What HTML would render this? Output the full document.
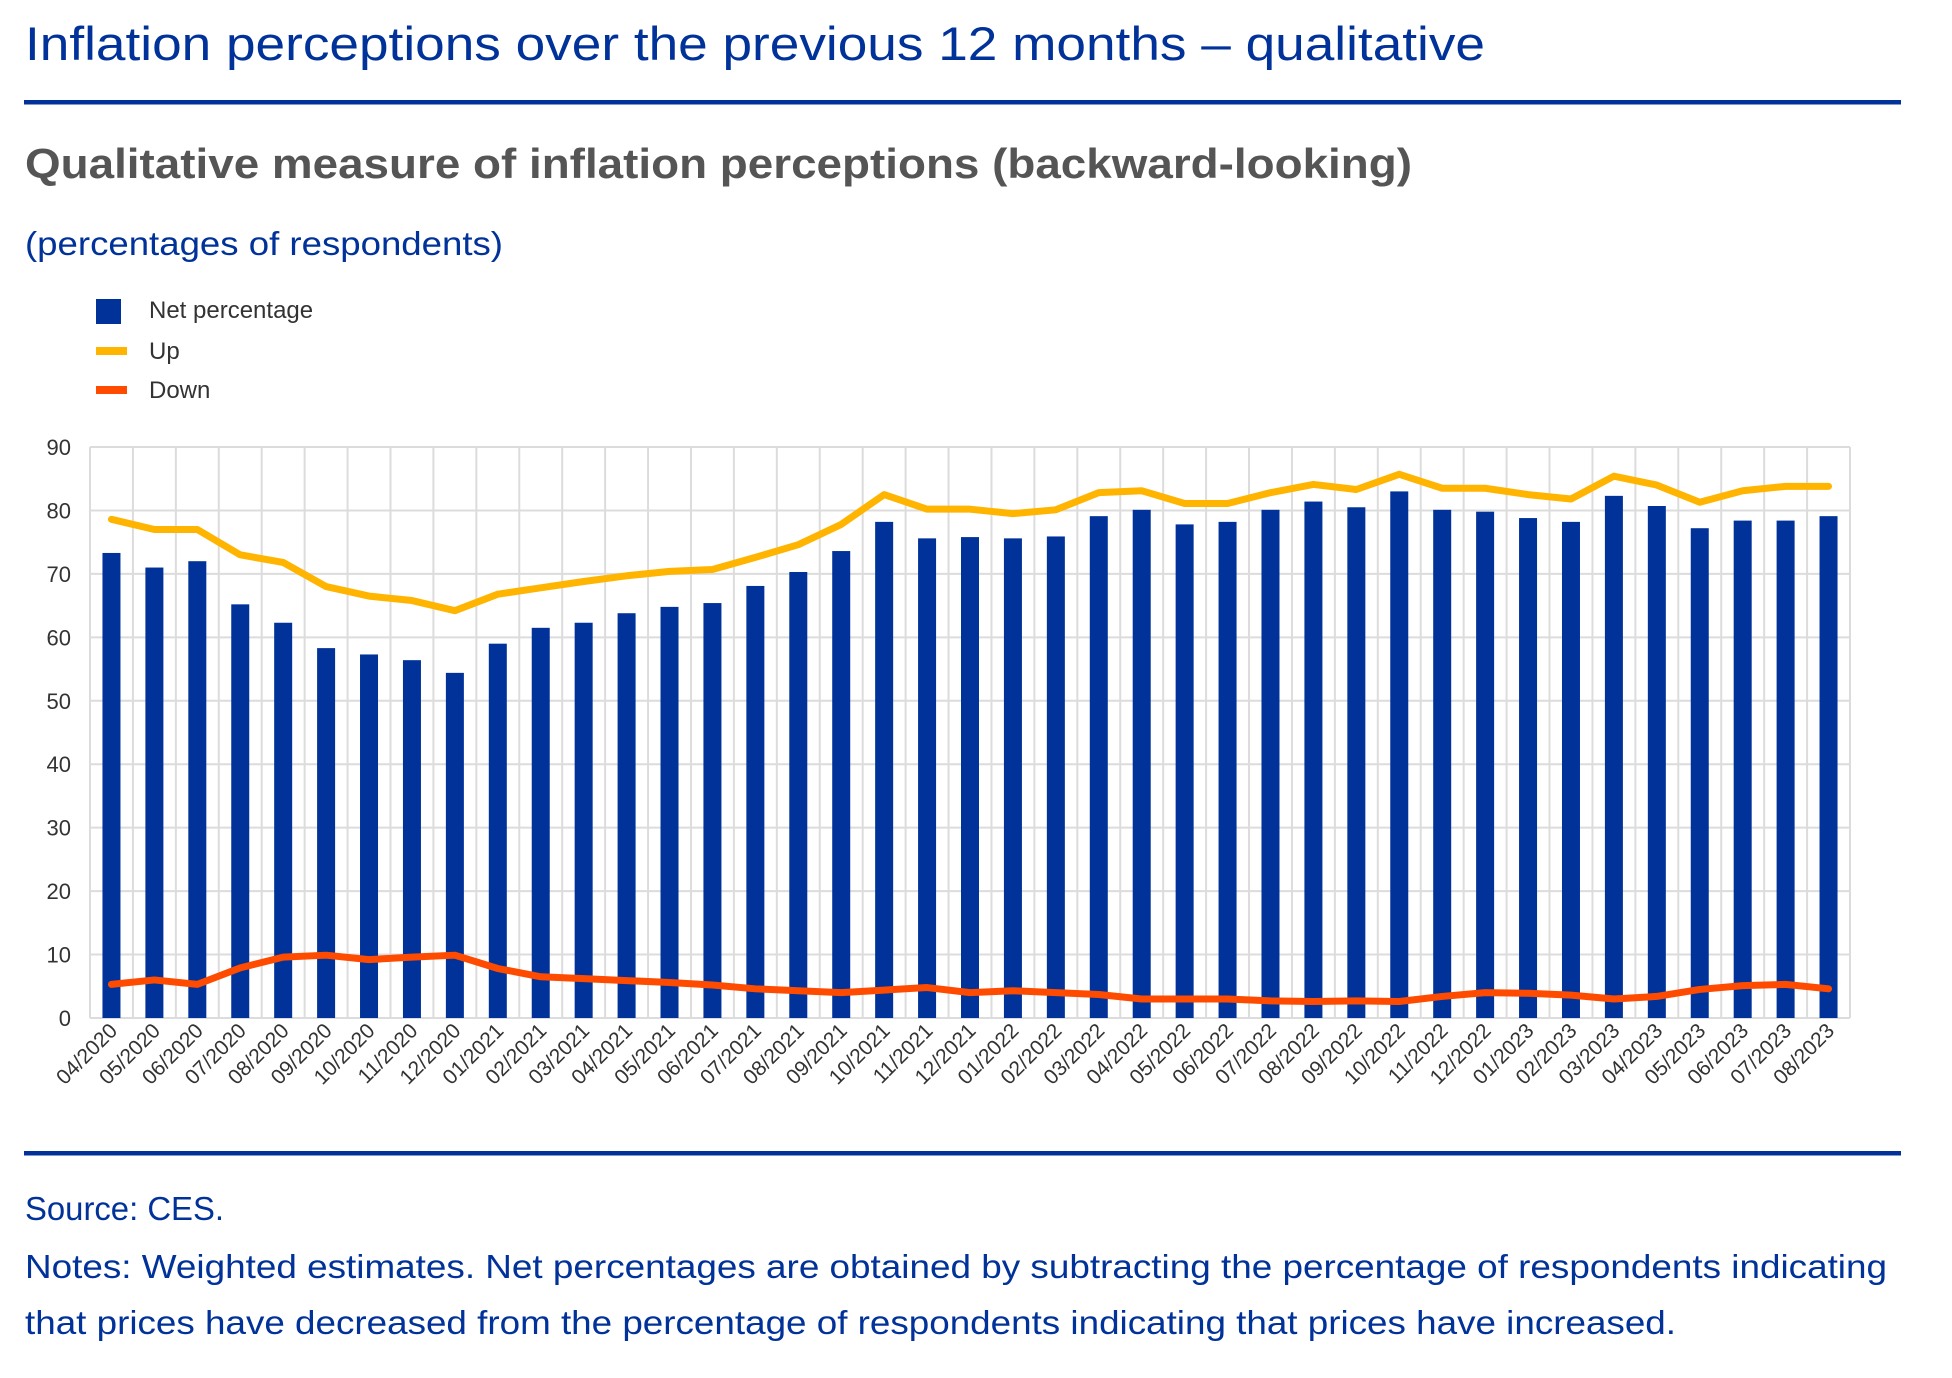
<!DOCTYPE html>
<html><head><meta charset="utf-8"><style>
html,body{margin:0;padding:0;background:#fff;}
svg{display:block;font-family:"Liberation Sans",sans-serif;}
</style></head><body>
<svg id="chart" width="1952" height="1378" viewBox="0 0 1952 1378">
<text x="25" y="60" font-size="47" fill="#003299" textLength="1460" lengthAdjust="spacingAndGlyphs">Inflation perceptions over the previous 12 months – qualitative</text>
<rect x="24" y="100" width="1877" height="4.5" fill="#003299"/>
<text x="25" y="178" font-size="42" font-weight="bold" fill="#555" textLength="1387" lengthAdjust="spacingAndGlyphs">Qualitative measure of inflation perceptions (backward-looking)</text>
<text x="25" y="255" font-size="33" fill="#003299" textLength="478" lengthAdjust="spacingAndGlyphs">(percentages of respondents)</text>
<g>
<rect x="96" y="299" width="25" height="25" fill="#003299"/>
<text x="149" y="318" font-size="24" fill="#333">Net percentage</text>
<rect x="96" y="347" width="31" height="8" fill="#ffb400"/>
<text x="149" y="359" font-size="24" fill="#333">Up</text>
<rect x="96" y="386" width="31" height="8" fill="#ff4b00"/>
<text x="149" y="398" font-size="24" fill="#333">Down</text>
</g>
<g id="plot"></g>
<rect x="24" y="1151" width="1877" height="4.5" fill="#003299"/>
<text x="25" y="1220" font-size="33" fill="#003299" textLength="199" lengthAdjust="spacingAndGlyphs">Source: CES.</text>
<text x="25" y="1278" font-size="33" fill="#003299" textLength="1862" lengthAdjust="spacingAndGlyphs">Notes: Weighted estimates. Net percentages are obtained by subtracting the percentage of respondents indicating</text>
<text x="25" y="1334" font-size="33" fill="#003299" textLength="1651" lengthAdjust="spacingAndGlyphs">that prices have decreased from the percentage of respondents indicating that prices have increased.</text>
</svg>
<script>
const categories = ["04/2020","05/2020","06/2020","07/2020","08/2020","09/2020","10/2020","11/2020","12/2020","01/2021","02/2021","03/2021","04/2021","05/2021","06/2021","07/2021","08/2021","09/2021","10/2021","11/2021","12/2021","01/2022","02/2022","03/2022","04/2022","05/2022","06/2022","07/2022","08/2022","09/2022","10/2022","11/2022","12/2022","01/2023","02/2023","03/2023","04/2023","05/2023","06/2023","07/2023","08/2023"];
const netValues = [73.3,71,72,65.2,62.3,58.3,57.3,56.4,54.4,59,61.5,62.3,63.8,64.8,65.4,68.1,70.3,73.6,78.2,75.6,75.8,75.6,75.9,79.1,80.1,77.8,78.2,80.1,81.4,80.5,83,80.1,79.8,78.8,78.2,82.3,80.7,77.2,78.4,78.4,79.1];
const upValues = [78.6,77,77,73,71.8,68,66.5,65.8,64.2,66.8,67.8,68.8,69.7,70.4,70.7,72.6,74.6,77.8,82.5,80.2,80.2,79.5,80.1,82.8,83.1,81.1,81.1,82.8,84.1,83.3,85.7,83.5,83.5,82.5,81.8,85.4,84,81.3,83.1,83.8,83.8];
const downValues = [5.3,6,5.3,7.9,9.6,9.9,9.2,9.6,9.9,7.8,6.5,6.2,5.9,5.6,5.2,4.6,4.3,4,4.4,4.8,4,4.3,4,3.7,3,3,3,2.7,2.6,2.7,2.6,3.4,4,3.9,3.6,3,3.4,4.5,5.1,5.3,4.6];
const yTicks = [0,10,20,30,40,50,60,70,80,90];

const NS = "http://www.w3.org/2000/svg";
const L = 90, R = 1850, T = 447, B = 1018, YMAX = 90;
const band = (R - L) / categories.length;
const xC = i => L + band * (i + 0.5);
const y = v => B - (v / YMAX) * (B - T);
const plot = document.getElementById('plot');
function mk(tag, attrs){ const e = document.createElementNS(NS, tag); for (const k in attrs) e.setAttribute(k, attrs[k]); return e; }

yTicks.forEach(t => {
  const g = mk('line', {x1:L, x2:R, y1:y(t), y2:y(t), stroke:'#dcdcdc', 'stroke-width':2});
  
  
  plot.appendChild(g);
  const lb = mk('text', {x:71, y:y(t)+8, 'text-anchor':'end', 'font-size':22, fill:'#333'});
  lb.textContent = t;
  
  
  plot.appendChild(lb);
});
for (let i = 0; i <= categories.length; i++) {
  const g = mk('line', {x1:L+band*i, x2:L+band*i, y1:T, y2:B, stroke:'#dcdcdc', 'stroke-width':2});
  
  
  plot.appendChild(g);
}
netValues.forEach((v, i) => {
  const bw = 18;
  const r = mk('rect', {x:xC(i)-bw/2, y:y(v), width:bw, height:B-y(v), fill:'#003299'});
  
  
  plot.appendChild(r);
});
function line(vals, color, name){
  const p = mk('polyline', {points: vals.map((v,i)=>xC(i)+','+y(v)).join(' '), fill:'none', stroke:color, 'stroke-width':7, 'stroke-linejoin':'round', 'stroke-linecap':'round'});
  
  
  plot.appendChild(p);
}
line(upValues, '#ffb400', 'line-up');
line(downValues, '#ff4b00', 'line-down');
categories.forEach((c, i) => {
  const x = xC(i) + 7, yy = B + 14;
  const t = mk('text', {x:x, y:yy, 'text-anchor':'end', 'font-size':21, fill:'#333', transform:'rotate(-45 '+x+' '+yy+')'});
  t.textContent = c;
  
  
  plot.appendChild(t);
});
</script>
</body></html>
